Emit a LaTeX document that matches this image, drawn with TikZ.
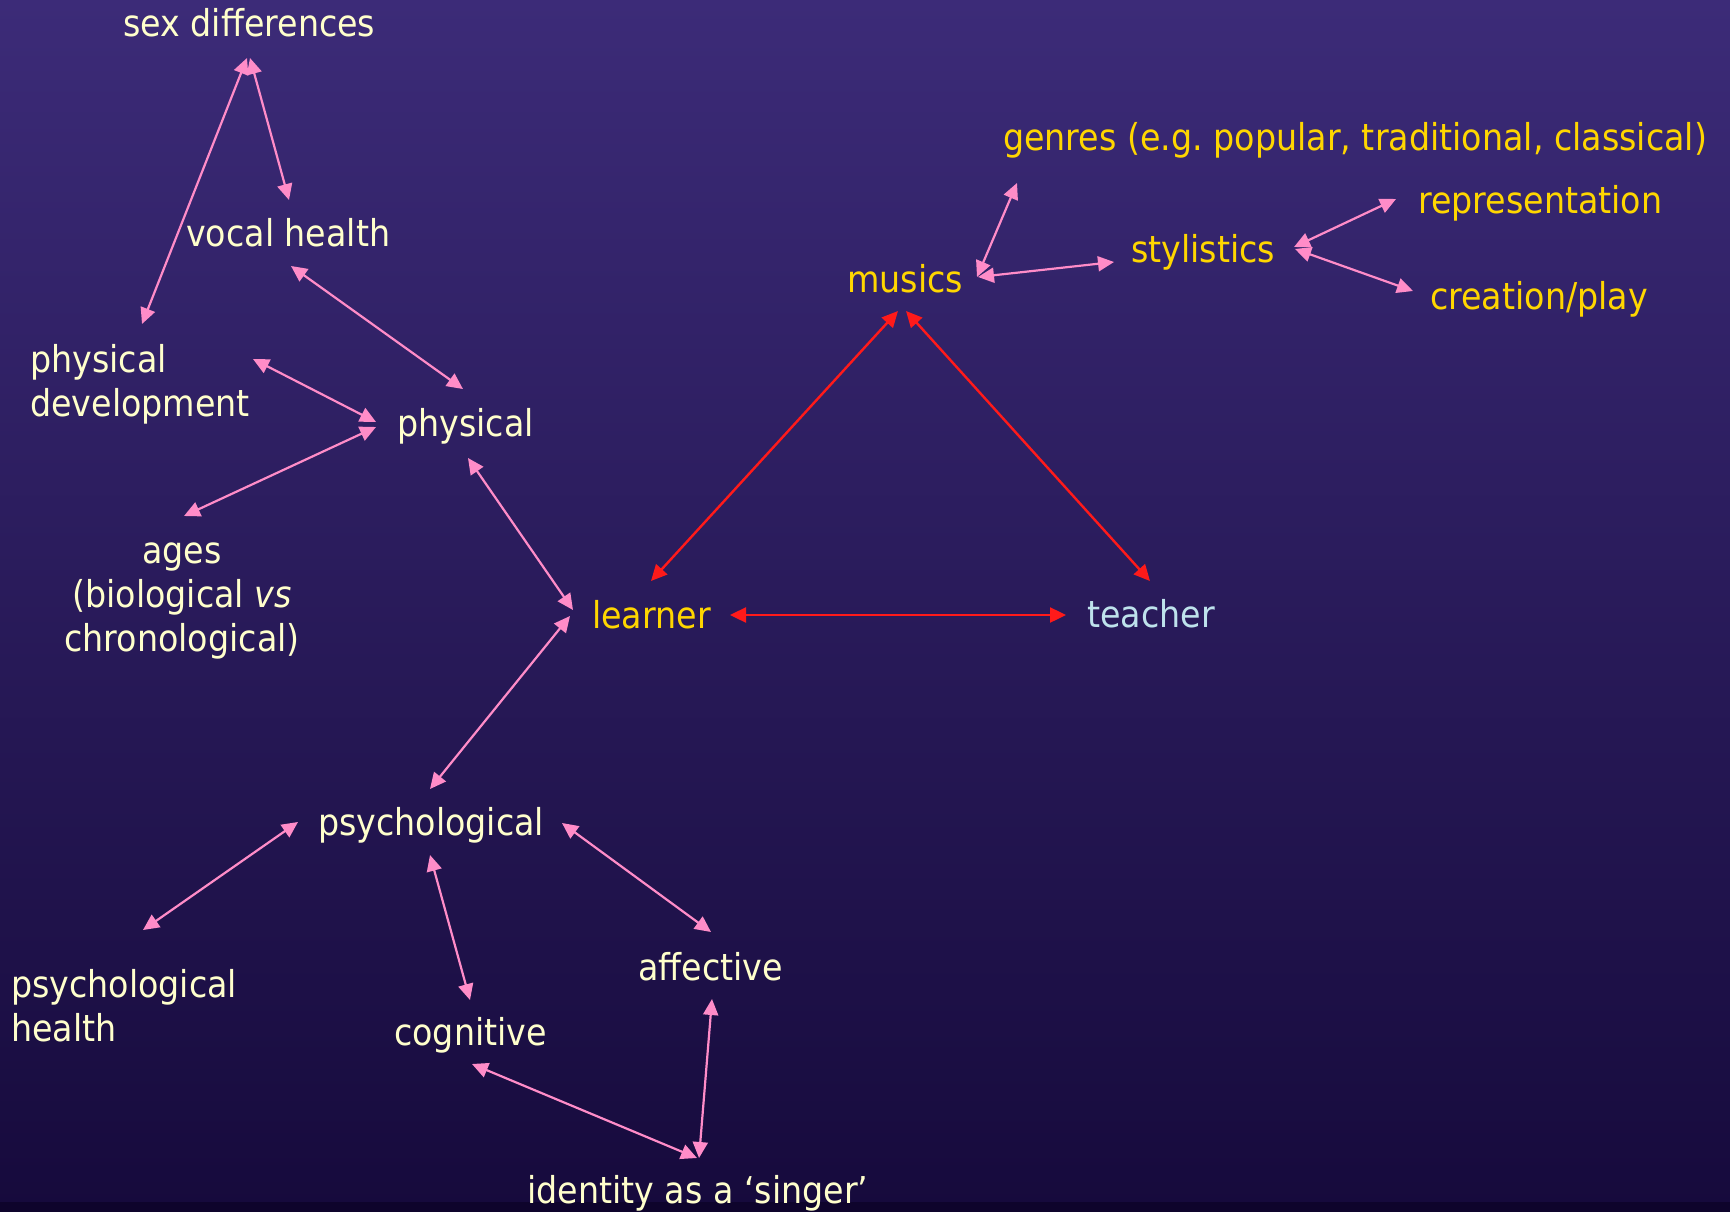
\documentclass[tikz,border=0pt]{standalone}
\usepackage{fontspec}
\setmainfont{DejaVu Sans}[FakeStretch=0.9]
\usepackage{xcolor}
\usetikzlibrary{arrows.meta}
\frenchspacing

\definecolor{bgtop}{RGB}{60,43,120}
\definecolor{bgbottom}{RGB}{22,10,60}
\definecolor{bgstrip}{RGB}{14,4,44}
\definecolor{cream}{RGB}{255,255,204}
\definecolor{gold}{RGB}{255,214,0}
\definecolor{paleblue}{RGB}{190,226,236}
\definecolor{linkpink}{RGB}{255,140,200}
\definecolor{linkred}{RGB}{255,26,26}

\begin{document}
\begin{tikzpicture}[x=1pt,y=-1pt,>={Triangle[length=16pt,width=15pt]},
  lbl/.style={inner sep=0pt,anchor=base west,font=\fontsize{37}{44}\selectfont},
  pale/.style={lbl,text=cream},
  yel/.style={lbl,text=gold},
  pinklink/.style={<->,linkpink,line width=2.2pt},
  redlink/.style={<->,linkred,line width=2.4pt}]
\useasboundingbox (0,0) rectangle (1730,1212);
\fill[top color=bgtop,bottom color=bgbottom] (0,0) rectangle (1730,1212);
\fill[bgstrip] (0,1202) rectangle (1730,1212);

% physical side
\node[pale] (sexdiff) at (123,37) {sex differences};
\node[pale] (vocal) at (186,246) {vocal health};
\node[pale,align=left] (physdev) at (30,416) {physical\\development};
\node[pale] (physical) at (397,436) {physical};
\node[pale,align=center,anchor=base] (ages) at (182,651) {ages\\(biological \textit{vs}\\chronological)};

% triangle
\node[yel] (learner) at (592,628) {learner};
\node[lbl,text=paleblue] (teacher) at (1087,627) {teacher};
\node[yel] (musics) at (847,292) {musics};

% musics side
\node[yel] (genres) at (1003,150) {genres (e.g. popular, traditional, classical)};
\node[yel] (stylistics) at (1131,262) {stylistics};
\node[yel] (repr) at (1418,213) {representation};
\node[yel] (creation) at (1430,309) {creation/play};

% psychological side
\node[pale] (psych) at (318,835) {psychological};
\node[pale,align=left] (psyhealth) at (11,1041) {psychological\\health};
\node[pale] (cognitive) at (394,1045) {cognitive};
\node[pale] (affective) at (638,980) {affective};
\node[pale] (identity) at (527,1203) {identity as a ‘singer’};

\draw[pinklink] ([shift={(124,21)}]sexdiff.base west) -- ([shift={(112,-92)}]physdev.base west);
\draw[pinklink] ([shift={(127,21)}]sexdiff.base west) -- ([shift={(103,-46)}]vocal.base west);
\draw[pinklink] ([shift={(105,20)}]vocal.base west) -- ([shift={(66,-47)}]physical.base west);
\draw[pinklink] ([shift={(223,-57)}]physdev.base west) -- ([shift={(-21,-14)}]physical.base west);
\draw[pinklink] ([shift={(-21,-9)}]physical.base west) -- ([shift={(2,-135)}]ages.base);
\draw[pinklink] ([shift={(71,22)}]physical.base west) -- ([shift={(-19,-18)}]learner.base west);
\draw[pinklink] ([shift={(-22,-12)}]learner.base west) -- ([shift={(112,-46)}]psych.base west);
\draw[pinklink] ([shift={(-20,-13)}]psych.base west) -- ([shift={(132,-111)}]psyhealth.base west);
\draw[pinklink] ([shift={(112,20)}]psych.base west) -- ([shift={(76,-45)}]cognitive.base west);
\draw[pinklink] ([shift={(244,-12)}]psych.base west) -- ([shift={(73,-48)}]affective.base west);
\draw[pinklink] ([shift={(78,19)}]cognitive.base west) -- ([shift={(170,-45)}]identity.base west);
\draw[pinklink] ([shift={(74,19)}]affective.base west) -- ([shift={(172,-45)}]identity.base west);
\draw[pinklink] ([shift={(130,-15)}]musics.base west) -- ([shift={(14,33)}]genres.base west);
\draw[pinklink] ([shift={(131,-15)}]musics.base west) -- ([shift={(-17,0)}]stylistics.base west);
\draw[pinklink] ([shift={(163,-15)}]stylistics.base west) -- ([shift={(-22,-14)}]repr.base west);
\draw[pinklink] ([shift={(164,-13)}]stylistics.base west) -- ([shift={(-17,-18)}]creation.base west);

\draw[redlink] ([shift={(51,19)}]musics.base west) -- ([shift={(59,-47)}]learner.base west);
\draw[redlink] ([shift={(59,19)}]musics.base west) -- ([shift={(63,-46)}]teacher.base west);
\draw[redlink] ([shift={(138,-13)}]learner.base west) -- ([shift={(-21,-12)}]teacher.base west);
\end{tikzpicture}
\end{document}
